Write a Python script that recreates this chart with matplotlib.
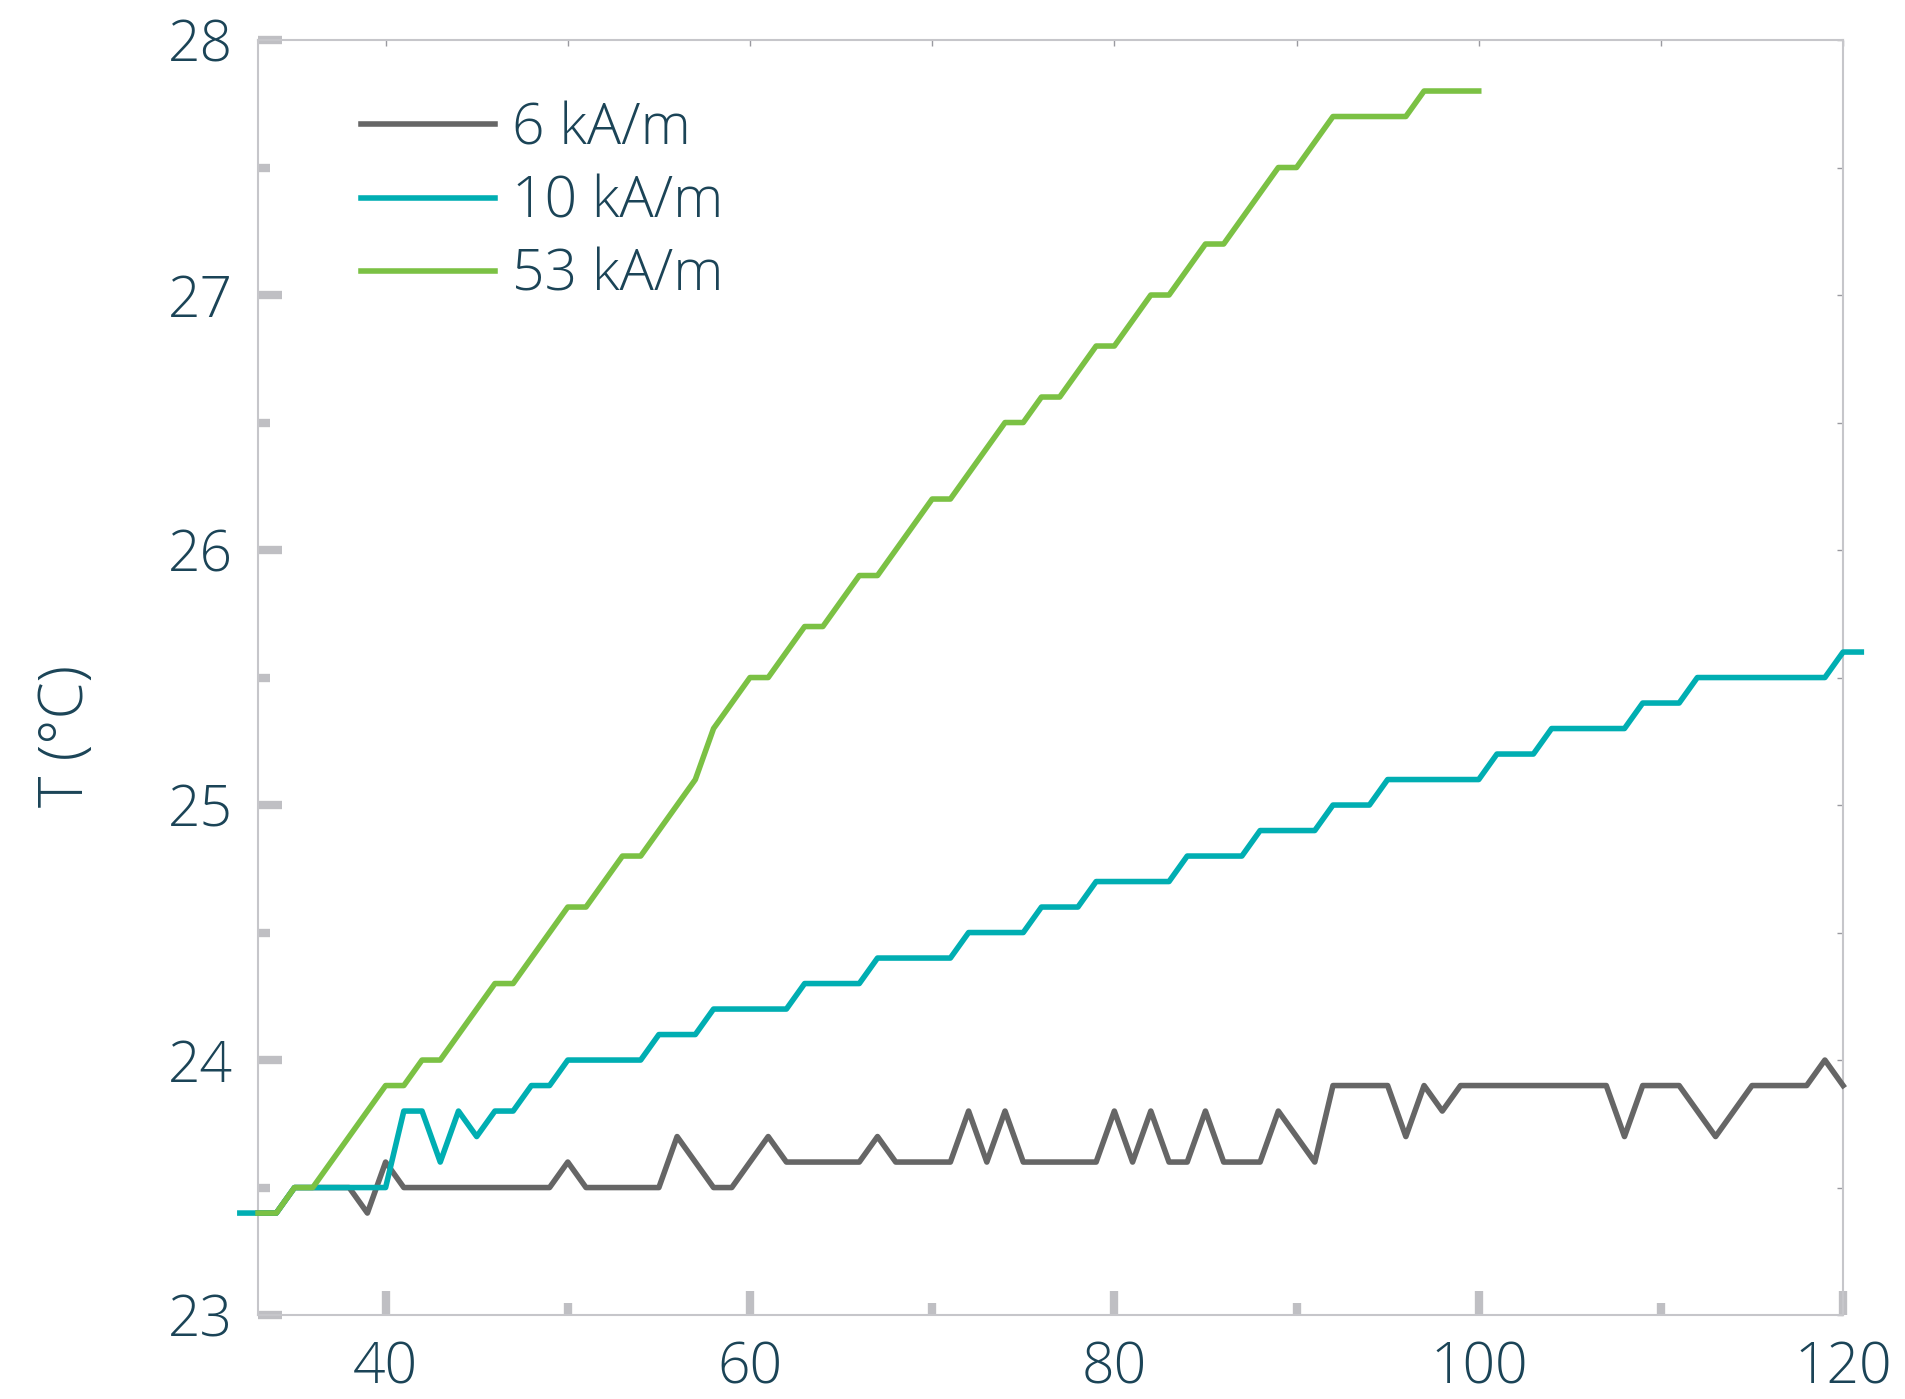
import numpy as np
import matplotlib
matplotlib.use("Agg")
import matplotlib.pyplot as plt
from matplotlib.ticker import MultipleLocator

plt.rcParams["font.family"] = ["Open Sans", "DejaVu Sans"]
plt.rcParams["font.weight"] = "light"

INK = "#1b4457"
FRAME = "#c6c6ca"
TICK = "#bfbfc3"
GRAY = "#666666"
TEAL = "#00aeb2"
GREEN = "#7bc144"

# time axis (one reading per step)
t_6 = np.arange(33, 121)
t_10 = np.arange(32, 122)
t_53 = np.arange(33, 101)

# temperature readings, degC
temp_6 = [23.4, 23.4, 23.5, 23.5, 23.5, 23.5, 23.4, 23.6,
          23.5, 23.5, 23.5, 23.5, 23.5, 23.5, 23.5, 23.5, 23.5,
          23.6, 23.5, 23.5, 23.5, 23.5, 23.5, 23.7, 23.6, 23.5, 23.5,
          23.6, 23.7, 23.6, 23.6, 23.6, 23.6, 23.6, 23.7,
          23.6, 23.6, 23.6, 23.6, 23.8, 23.6, 23.8,
          23.6, 23.6, 23.6, 23.6, 23.6, 23.8, 23.6, 23.8, 23.6, 23.6,
          23.8, 23.6, 23.6, 23.6, 23.8, 23.7, 23.6,
          23.9, 23.9, 23.9, 23.9, 23.7, 23.9, 23.8,
          23.9, 23.9, 23.9, 23.9, 23.9, 23.9, 23.9, 23.9, 23.9,
          23.7, 23.9, 23.9, 23.9, 23.8, 23.7, 23.8,
          23.9, 23.9, 23.9, 23.9, 24.0, 23.9]

temp_10 = [23.4, 23.4, 23.4, 23.5, 23.5, 23.5, 23.5, 23.5, 23.5,
           23.8, 23.8, 23.6, 23.8, 23.7, 23.8, 23.8, 23.9, 23.9,
           24.0, 24.0, 24.0, 24.0, 24.0, 24.1, 24.1, 24.1,
           24.2, 24.2, 24.2, 24.2, 24.2, 24.3, 24.3, 24.3, 24.3,
           24.4, 24.4, 24.4, 24.4, 24.4, 24.5, 24.5, 24.5, 24.5,
           24.6, 24.6, 24.6, 24.7, 24.7, 24.7, 24.7, 24.7,
           24.8, 24.8, 24.8, 24.8, 24.9, 24.9, 24.9, 24.9,
           25.0, 25.0, 25.0, 25.1, 25.1, 25.1, 25.1, 25.1, 25.1,
           25.2, 25.2, 25.2, 25.3, 25.3, 25.3, 25.3, 25.3,
           25.4, 25.4, 25.4, 25.5, 25.5, 25.5, 25.5, 25.5, 25.5, 25.5, 25.5,
           25.6, 25.6]

temp_53 = [23.4, 23.4, 23.5, 23.5, 23.6, 23.7, 23.8, 23.9, 23.9,
           24.0, 24.0, 24.1, 24.2, 24.3, 24.3, 24.4, 24.5, 24.6, 24.6,
           24.7, 24.8, 24.8, 24.9, 25.0, 25.1, 25.3, 25.4, 25.5, 25.5,
           25.6, 25.7, 25.7, 25.8, 25.9, 25.9, 26.0, 26.1, 26.2, 26.2,
           26.3, 26.4, 26.5, 26.5, 26.6, 26.6, 26.7, 26.8, 26.8,
           26.9, 27.0, 27.0, 27.1, 27.2, 27.2, 27.3, 27.4, 27.5, 27.5,
           27.6, 27.7, 27.7, 27.7, 27.7, 27.7, 27.8, 27.8, 27.8, 27.8]

labels = ["6 kA/m", "10 kA/m", "53 kA/m"]

fig = plt.figure(figsize=(19.06, 13.99), dpi=100)
ax = fig.add_axes([0.1354, 0.0600, 0.8316, 0.9114])

for t, temp, col, lab in zip([t_6, t_10, t_53], [temp_6, temp_10, temp_53],
                             [GRAY, TEAL, GREEN], labels):
    ax.plot(t, temp, color=col, lw=4.0, label=lab, clip_on=False, zorder=3)

ax.set_xlim(33, 120)
ax.set_ylim(23, 28)

for sp in ax.spines.values():
    sp.set_color(FRAME)
    sp.set_linewidth(1.5)

ax.xaxis.set_major_locator(MultipleLocator(20))
ax.xaxis.set_minor_locator(MultipleLocator(10))
ax.yaxis.set_major_locator(MultipleLocator(1))
ax.yaxis.set_minor_locator(MultipleLocator(0.5))
ax.tick_params(which="major", direction="in", length=17, width=6,
               color=TICK, labelsize=41, labelcolor=INK, pad=18)
ax.tick_params(which="minor", direction="in", length=8.5, width=6, color=TICK)
ax.tick_params(top=False, right=False, which="both")

# hairline ticks along the top and right edges
top = ax.secondary_xaxis("top")
top.set_xticks(np.arange(40, 121, 10))
top.tick_params(direction="in", length=4, width=1, color="#9a9aa0",
                labeltop=False)
top.spines["top"].set_visible(False)
right = ax.secondary_yaxis("right")
right.set_yticks(np.arange(23, 28.01, 0.5))
right.tick_params(direction="in", length=4, width=1, color="#9a9aa0",
                  labelright=False)
right.spines["right"].set_visible(False)

fig.text(67 / 1906, 1 - 736 / 1399, "T (°C)", rotation=90, ha="center",
         va="center", fontsize=43, color=INK)

leg = ax.legend(loc="upper left", bbox_to_anchor=(0.065, 0.9525),
                frameon=False, fontsize=41, handlelength=2.35,
                handletextpad=0.3, labelspacing=0.28, borderpad=0,
                borderaxespad=0)
for txt in leg.get_texts():
    txt.set_color(INK)

fig.savefig("out.png", dpi=100)
